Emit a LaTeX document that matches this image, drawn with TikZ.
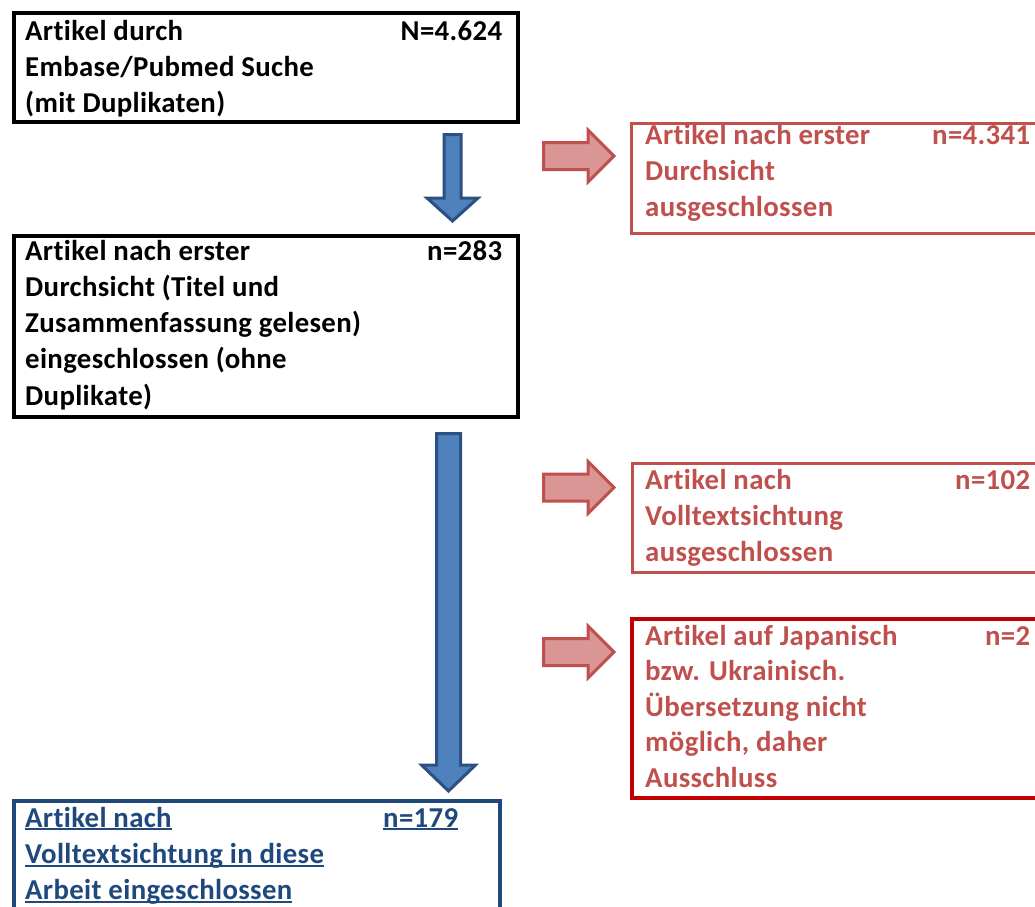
\documentclass[tikz,border=0pt]{standalone}
\usepackage{fontspec}
\setmainfont{Carlito}[RawFeature=-liga, LetterSpace=1.2]
\usetikzlibrary{calc}
\definecolor{bfill}{HTML}{4F81BD}
\definecolor{bline}{HTML}{2C5080}
\definecolor{dblue}{HTML}{1F497D}
\definecolor{rline}{HTML}{C0504D}
\definecolor{rfill}{HTML}{D99694}
\definecolor{dred}{HTML}{C00000}
\newcommand\myul[1]{\leavevmode\setbox0\hbox{#1}\rlap{\rule[-3.2pt]{\wd0}{1.8pt}}\box0}
\tikzset{
  boxblack/.style={draw=black, line width=4pt, inner sep=0pt, anchor=north west},
  boxblue/.style={draw=dblue, line width=4pt, inner sep=0pt, anchor=north west},
  boxred/.style={draw=rline, line width=3pt, inner sep=0pt, anchor=north west},
  boxdred/.style={draw=dred, line width=4pt, inner sep=0pt, anchor=north west},
  txt/.style={inner sep=0pt, anchor=base west, font=\fontsize{28.8}{36.3}\selectfont\bfseries},
  bluearrow/.style={fill=bfill, draw=bline, line width=3pt, line join=miter},
  redarrow/.style={fill=rfill, draw=rline, line width=3pt, line join=miter},
}
\begin{document}
\begin{tikzpicture}[x=1pt, y=-1pt]
\useasboundingbox (0,0) rectangle (1035,906);
\begin{scope}
\clip (0,0) rectangle (1035,906);
% boxes
\node[boxblack, minimum width=504pt, minimum height=109pt] (b1) at (12,11) {};
\node[boxblack, minimum width=504pt, minimum height=181pt] (b2) at (12,234) {};
\node[boxblue, minimum width=486pt, minimum height=130pt] (b3) at (12,799) {};
\node[boxred, minimum width=420pt, minimum height=110pt] (r1) at (629.5,121.5) {};
\node[boxred, minimum width=420pt, minimum height=109pt] (r2) at (630.5,461.5) {};
\node[boxdred, minimum width=420pt, minimum height=179pt] (r3) at (630,617) {};
% texts
\node[txt, text=black] (t1) at (25,40) {\parbox[t]{477pt}{\raggedright Artikel durch\hfill N=4.624\\ Embase/Pubmed Suche\\ (mit Duplikaten)}};
\node[txt, text=black] (t2) at (25,260) {\parbox[t]{477pt}{\raggedright Artikel nach erster\hfill n=283\\ Durchsicht (Titel und\\ Zusammenfassung gelesen)\\ eingeschlossen (ohne\\ Duplikate)}};
\node[txt, text=dblue] (t3) at (25,827) {\parbox[t]{433pt}{\raggedright \myul{Artikel nach}\hfill\myul{n=179}\\ \myul{Volltextsichtung in diese}\\ \myul{Arbeit eingeschlossen}}};
\node[txt, text=rline] (tr1) at (645,144) {\parbox[t]{385pt}{\raggedright Artikel nach erster\hfill n=4.341\\ Durchsicht\\ ausgeschlossen}};
\node[txt, text=rline] (tr2) at (645,489) {\parbox[t]{385pt}{\raggedright Artikel nach\hfill n=102\\ Volltextsichtung\\ ausgeschlossen}};
\node[txt, text=rline, font=\fontsize{28.8}{35.6}\selectfont\bfseries] (tr3) at (645,645) {\parbox[t]{385pt}{\raggedright Artikel auf Japanisch\hfill n=2\\ bzw. Ukrainisch.\\ Übersetzung nicht\\ möglich, daher\\ Ausschluss}};
% blue arrows
\coordinate (a1s) at ($(b1.south west)+(440.5,10.5)$);
\coordinate (a1e) at ($(b2.north west)+(440.5,-13)$);
\draw[bluearrow] ($(a1s)+(-8.5,0)$) -- ($(a1e)+(-8.5,-23)$) -- ($(a1e)+(-25.5,-23)$) -- (a1e)
  -- ($(a1e)+(25.5,-23)$) -- ($(a1e)+(8.5,-23)$) -- ($(a1s)+(8.5,0)$) -- cycle;
\coordinate (a2s) at ($(b2.south west)+(436.5,14.5)$);
\coordinate (a2e) at ($(b3.north west)+(436.5,-8)$);
\draw[bluearrow] ($(a2s)+(-12,0)$) -- ($(a2e)+(-12,-26)$) -- ($(a2e)+(-27,-26)$) -- (a2e)
  -- ($(a2e)+(27,-26)$) -- ($(a2e)+(12,-26)$) -- ($(a2s)+(12,0)$) -- cycle;
% red arrows
\foreach \c/\nm in {156/r1, 487.5/r2, 652/r3}{
  \coordinate (s\nm) at (543.5,\c);
  \coordinate (e\nm) at (614,\c);
  \draw[redarrow] ($(s\nm)+(0,-13.5)$) -- ($(e\nm)+(-26,-13.5)$) -- ($(e\nm)+(-26,-26)$) -- (e\nm)
    -- ($(e\nm)+(-26,26)$) -- ($(e\nm)+(-26,13.5)$) -- ($(s\nm)+(0,13.5)$) -- cycle;
}
\end{scope}
\end{tikzpicture}
\end{document}
